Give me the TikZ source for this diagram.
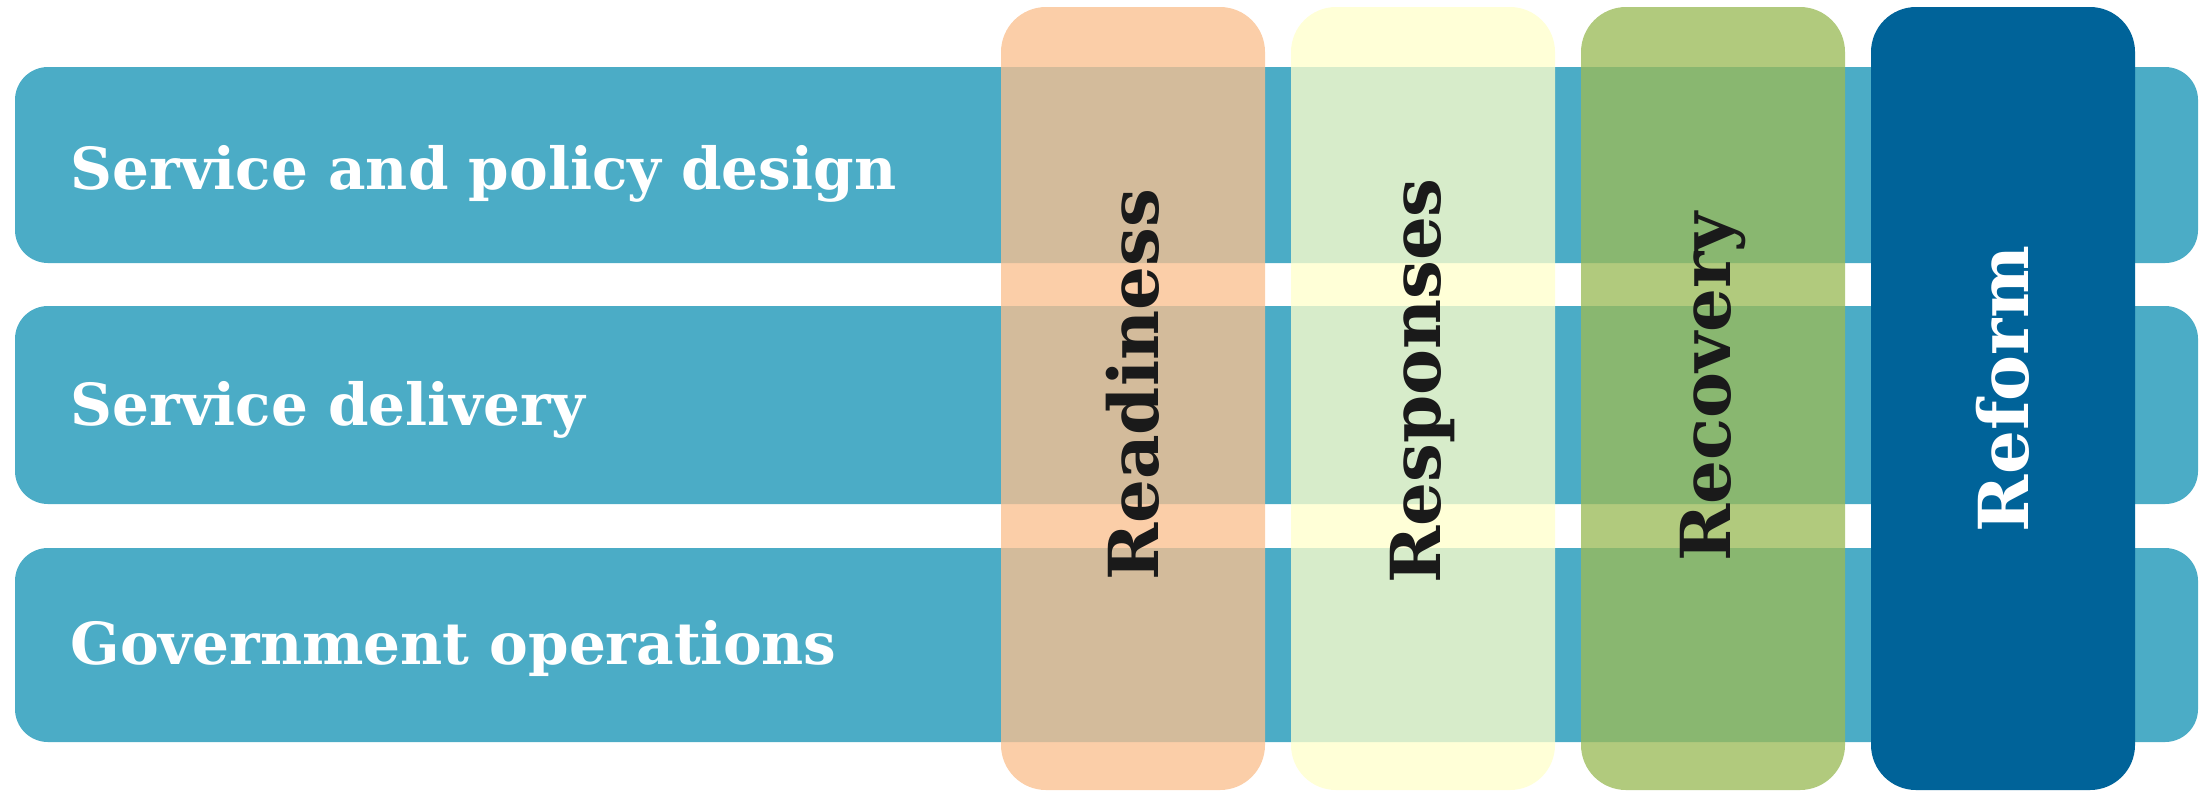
\documentclass[tikz,border=0pt]{standalone}
\usepackage{fontspec}
\setmainfont{DejaVu Serif}
\usepackage{tikz}

\definecolor{rowteal}{HTML}{4BACC6}
\definecolor{readypeach}{HTML}{FAC090}
\definecolor{respyellow}{HTML}{FFFFCC}
\definecolor{recovgreen}{HTML}{9BBB59}
\definecolor{reformblue}{HTML}{006399}
\definecolor{phasetext}{HTML}{1A1A1A}

\begin{document}
\begin{tikzpicture}[x=0.01cm, y=-0.01cm,
    rowbar/.style={fill=rowteal, rounded corners=0.33cm},
    phasecol/.style={rounded corners=0.45cm, fill opacity=0.78},
    rowlabel/.style={anchor=west, text=white, font=\fontsize{16.5}{19}\selectfont\bfseries, inner sep=0pt},
    phaselabel/.style={rotate=90, text=phasetext, font=\fontsize{19.6}{23}\selectfont\bfseries, inner sep=0pt}]
        \useasboundingbox (0,0) rectangle (2206,790);
        % rows
        \coordinate (D1) at (15,67);
        \coordinate (D2) at (2198,263);
        \coordinate (S1) at (15,306);
        \coordinate (S2) at (2198,504);
        \coordinate (G1) at (15,548);
        \coordinate (G2) at (2198,742);
        \fill[rowbar] (D1) rectangle (D2);
        \fill[rowbar] (S1) rectangle (S2);
        \fill[rowbar] (G1) rectangle (G2);
        \node[rowlabel] (design) at (70,174) {Service and policy design};
        \node[rowlabel] (delivery) at (70,410) {Service delivery};
        \node[rowlabel] (operations) at (70,648) {Government operations};
        % phases
        \fill[phasecol, fill=readypeach] (1001,7) rectangle (1265,790);
        \fill[phasecol, fill=respyellow] (1291,7) rectangle (1555,790);
        \fill[phasecol, fill=recovgreen] (1581,7) rectangle (1845,790);
        \fill[rounded corners=0.45cm, fill=reformblue] (1871,7) rectangle (2135,790);
        \node[phaselabel] (readiness) at (1133,385) {Readiness};
        \node[phaselabel] (responses) at (1423,381) {Responses};
        \node[phaselabel] (recovery) at (1713,387) {Recovery};
        \node[phaselabel, text=white] (reform) at (2003,389) {Reform};
\end{tikzpicture}
\end{document}
